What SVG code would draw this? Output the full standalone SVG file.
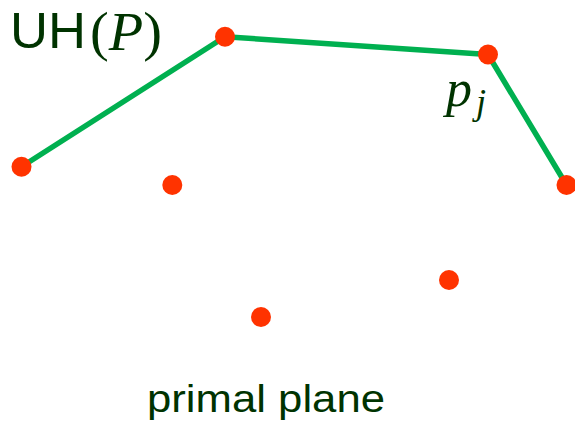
<svg xmlns="http://www.w3.org/2000/svg" width="575" height="426" viewBox="0 0 575 426">
<style>
.pt{fill:#FF3300}
.sans{font-family:"Liberation Sans",Arial,sans-serif;fill:#003300}
.math{font-family:"Liberation Serif","Times New Roman",serif;fill:#003300}
</style>
<rect width="575" height="426" fill="#fff"/>
<g id="connectors">
<polyline points="21.5,166.7 225,36.7 488,54.5 566.5,185" fill="none" stroke="#00B050" stroke-width="5.5" stroke-linejoin="round"/>
</g>
<g id="p1"><circle class="pt" cx="21.5" cy="166.7" r="10"/></g>
<g id="p2"><circle class="pt" cx="225" cy="36.7" r="10"/></g>
<g id="p3"><circle class="pt" cx="488" cy="54.5" r="10"/></g>
<g id="p4"><circle class="pt" cx="566.5" cy="185" r="10"/></g>
<g id="p5"><circle class="pt" cx="172.3" cy="185" r="10"/></g>
<g id="p6"><circle class="pt" cx="261" cy="317" r="10"/></g>
<g id="p7"><circle class="pt" cx="449" cy="280" r="10"/></g>
<g id="label-uh">
<text class="sans" x="10" y="48" font-size="50" textLength="76" lengthAdjust="spacingAndGlyphs">UH</text>
<text class="math" x="90" y="50" font-size="55" textLength="72" lengthAdjust="spacingAndGlyphs">(<tspan font-style="italic">P</tspan>)</text>
</g>
<g id="label-pj">
<text class="math" x="446" y="106" font-size="52" font-style="italic">p<tspan font-size="36" dy="8" dx="4">j</tspan></text>
</g>
<g id="label-plane">
<text class="sans" x="147" y="412" font-size="38" textLength="238" lengthAdjust="spacingAndGlyphs">primal plane</text>
</g>
</svg>
